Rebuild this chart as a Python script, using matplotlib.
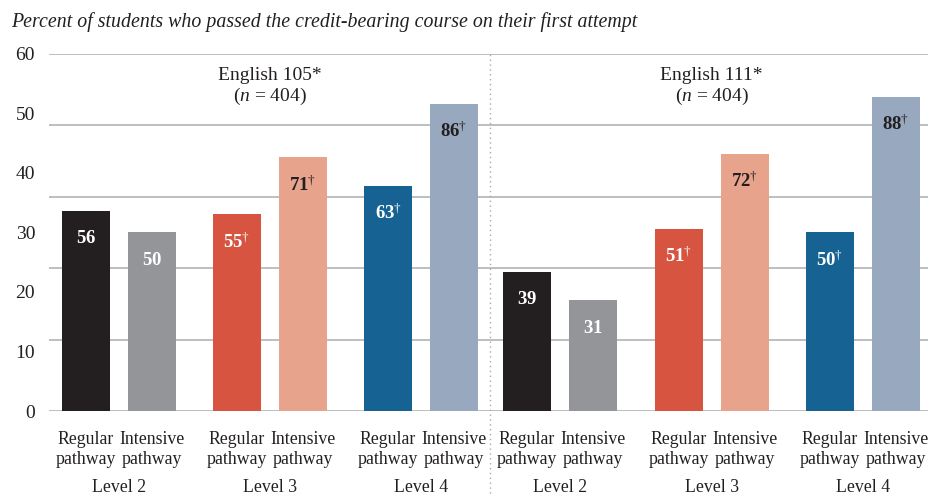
"""Pass rates by pathway and placement level, English 105 and 111."""

import matplotlib

matplotlib.use("Agg")

import matplotlib.pyplot as plt

plt.rcParams["font.family"] = ["Liberation Serif", "DejaVu Serif"]
plt.rcParams["mathtext.fontset"] = "custom"
plt.rcParams["mathtext.rm"] = "Liberation Serif"
plt.rcParams["mathtext.bf"] = "Liberation Serif:bold"
plt.rcParams["mathtext.it"] = "Liberation Serif:italic"

courses = ["English 105*", "English 111*"]
course_n = [404, 404]
levels = ["Level 2", "Level 3", "Level 4"]
pathways = ["Regular\npathway", "Intensive\npathway"]

# percent passed, [course][level] -> (regular, intensive)
regular_vals = [[56, 55, 63], [39, 51, 50]]
intensive_vals = [[50, 71, 86], [31, 72, 88]]
regular_sig = [[False, True, True], [False, True, True]]
intensive_sig = [[False, True, True], [False, True, True]]

# the printed axis labels (evenly spaced) and the gridlines (every 20)
tick_labels = ["0", "10", "20", "30", "40", "50", "60"]
grid_vals = [0, 20, 40, 60, 80, 100]

level_colors = [("#231f20", "#939598"), ("#d75441", "#e8a38c"), ("#166293", "#97a8bf")]
label_colors = [("white", "white"), ("white", "#231f20"), ("white", "#231f20")]

group_x = [[0, 1, 2], [2.92, 3.925, 4.925]]
offset = 0.2185
width = 0.318

fig = plt.figure(figsize=(9.29, 4.97), dpi=100)
ax = fig.add_axes([0.0527, 0.173, 0.9473, 0.719])
ax.set_xlim(-0.464, 5.364)
ax.set_ylim(0, 100)

for g in grid_vals:
    ax.axhline(g, color="#bcbec0", lw=1.4, zorder=0)


def value_text(v, sig):
    return r"$\mathbf{%d}^{\dagger}$" % v if sig else r"$\mathbf{%d}$" % v


for c in range(2):
    for lv in range(3):
        cx = group_x[c][lv]
        vals = [regular_vals[c][lv], intensive_vals[c][lv]]
        sigs = [regular_sig[c][lv], intensive_sig[c][lv]]
        for k, sx in enumerate([-offset, offset]):
            x = cx + sx
            ax.bar(x, vals[k], width=width, color=level_colors[lv][k], zorder=2)
            ax.annotate(value_text(vals[k], sigs[k]), (x, vals[k]),
                        xytext=(0, -20), textcoords="offset points",
                        ha="center", va="center", fontsize=13.5,
                        color=label_colors[lv][k], zorder=3)
            ax.text(x, -5.5, pathways[k], ha="center", va="top",
                    fontsize=12.8, color="#231f20", linespacing=1.25)
        ax.text(cx, -21.3, levels[lv], ha="center", va="center",
                fontsize=12.8, color="#231f20")
    mid = group_x[c][1]
    ax.text(mid, 94, courses[c], ha="center", va="center", fontsize=14,
            color="#231f20")
    ax.text(mid, 88, r"($\mathit{n}$ = %d)" % course_n[c], ha="center",
            va="center", fontsize=14, color="#231f20")

ax.axvline(2.457, ymin=-0.245, ymax=1.0, color="#a7a9ac", lw=1,
           linestyle=(0, (1, 2.5)), clip_on=False, zorder=1)

ax.set_yticks([i * 100 / 6 for i in range(7)])
ax.set_yticklabels(tick_labels, fontsize=14, color="#231f20")
ax.tick_params(axis="y", length=0, pad=10)
ax.set_xticks([])
for side in ["top", "right", "bottom", "left"]:
    ax.spines[side].set_visible(False)

fig.text(0.012, 0.955, "Percent of students who passed the credit-bearing course on their first attempt",
         ha="left", va="center", fontsize=14.3, style="italic", color="#231f20")

fig.savefig("out.png", dpi=100)
